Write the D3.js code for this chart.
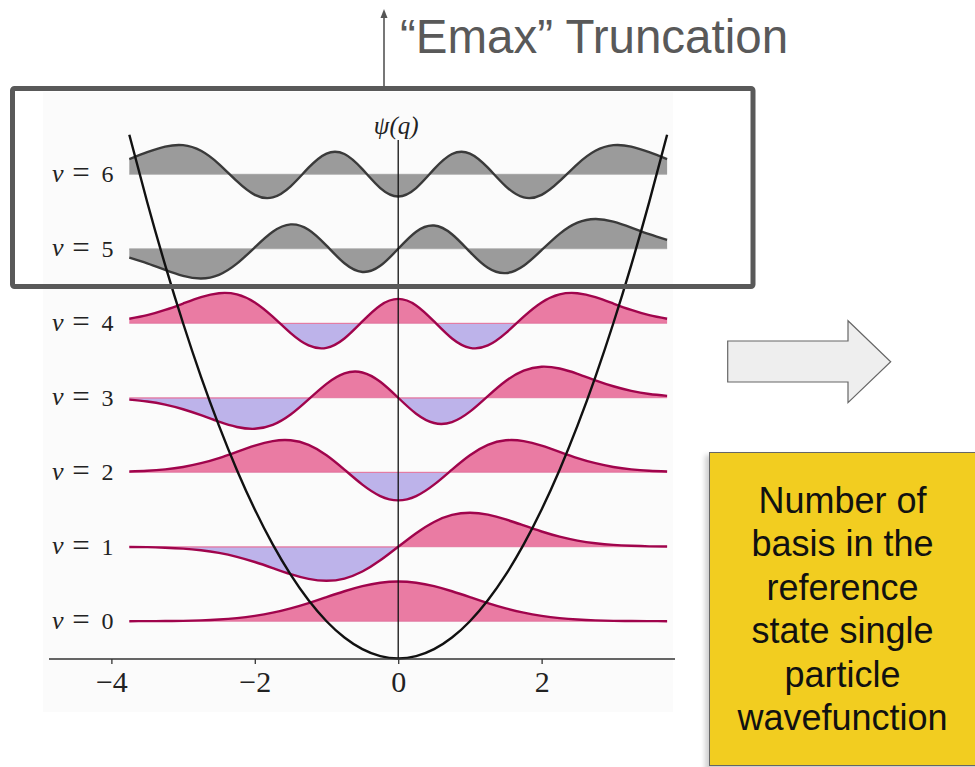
<!DOCTYPE html>
<html><head><meta charset="utf-8">
<script src="https://cdn.jsdelivr.net/npm/d3@7"></script>
<style>html,body{margin:0;padding:0;background:#fff;overflow:hidden}</style>
</head><body>
<svg id="c" width="975" height="767"></svg>
<script>
// ---- data ----
const qGrid = [-3.75,-3.5,-3.25,-3,-2.75,-2.5,-2.25,-2,-1.75,-1.5,-1.25,-1,-0.75,-0.5,-0.25,0,0.25,0.5,0.75,1,1.25,1.5,1.75,2,2.25,2.5,2.75,3,3.25,3.5,3.75];
const levels = [0,1,2,3,4,5,6];
const psi0 = [0.001,0.002,0.004,0.008,0.017,0.033,0.060,0.102,0.162,0.244,0.344,0.456,0.567,0.663,0.728,0.751,0.728,0.663,0.567,0.456,0.344,0.244,0.162,0.102,0.060,0.033,0.017,0.008,0.004,0.002,0.001];
const psi1 = [-0.004,-0.008,-0.018,-0.035,-0.067,-0.117,-0.190,-0.288,-0.402,-0.517,-0.608,-0.644,-0.601,-0.469,-0.257,0,0.257,0.469,0.601,0.644,0.608,0.517,0.402,0.288,0.190,0.117,0.067,0.035,0.018,0.008,0.004];
const psi2 = [0.013,0.027,0.054,0.100,0.171,0.268,0.386,0.503,0.589,0.604,0.517,0.322,0.050,-0.234,-0.450,-0.531,-0.450,-0.234,0.050,0.322,0.517,0.604,0.589,0.503,0.386,0.268,0.171,0.100,0.054,0.027,0.013];
const psi3 = [-0.036,-0.071,-0.130,-0.217,-0.330,-0.453,-0.553,-0.587,-0.513,-0.317,-0.031,0.263,0.460,0.478,0.302,0,-0.302,-0.478,-0.460,-0.263,0.031,0.317,0.513,0.587,0.553,0.453,0.330,0.217,0.130,0.071,0.036];
const psi4 = [0.085,0.153,0.252,0.373,0.493,0.568,0.546,0.394,0.125,-0.187,-0.420,-0.465,-0.288,0.034,0.337,0.460,0.337,0.034,-0.288,-0.465,-0.420,-0.187,0.125,0.394,0.546,0.568,0.493,0.373,0.252,0.153,0.085];
const psi5 = [-0.169,-0.275,-0.401,-0.514,-0.562,-0.493,-0.282,0.026,0.321,0.460,0.360,0.059,-0.275,-0.439,-0.323,0,0.323,0.439,0.275,-0.059,-0.360,-0.460,-0.321,-0.026,0.282,0.493,0.562,0.514,0.401,0.275,0.169];
const psi6 = [0.288,0.416,0.522,0.550,0.443,0.193,-0.132,-0.390,-0.438,-0.228,0.124,0.391,0.382,0.096,-0.261,-0.420,-0.261,0.096,0.382,0.391,0.124,-0.228,-0.438,-0.390,-0.132,0.193,0.443,0.550,0.522,0.416,0.288];
const potential = [7.031,6.125,5.281,4.5,3.781,3.125,2.531,2,1.531,1.125,0.781,0.5,0.281,0.125,0.031,0,0.031,0.125,0.281,0.5,0.781,1.125,1.531,2,2.531,3.125,3.781,4.5,5.281,6.125,7.031];
const xTicks = [-4,-2,0,2];
const xTickLabels = ["\u22124","\u22122","0","2"];
const truncatedLevels = [5,6];
const axisLabel = "\u03C8(q)";
const truncationLabel = "\u201CEmax\u201D Truncation";
const boxLines = ["Number of","basis in the","reference","state single","particle","wavefunction"];

const psiByLevel = [psi0,psi1,psi2,psi3,psi4,psi5,psi6];

// ---- layout ----
const W = 975, H = 767;
const svg = d3.select("#c");
const defs = svg.append("defs");
const x = d3.scaleLinear().domain([-4.87, 3.86]).range([49, 675]);
const y = d3.scaleLinear().domain([0, 7]).range([658.5, 137]);
const amp = 0.71;

// faint plot background
svg.append("rect").attr("x",43).attr("y",92).attr("width",630).attr("height",620).attr("fill","#fbfbfb");

const gLev = svg.append("g");
levels.forEach(v => {
  const E = v + 0.5;
  const by = y(E);
  const data = psiByLevel[v];
  const gray = truncatedLevels.includes(v);
  defs.append("clipPath").attr("id","ab"+v).append("rect").attr("x",0).attr("y",0).attr("width",W).attr("height",by+0.8);
  defs.append("clipPath").attr("id","be"+v).append("rect").attr("x",0).attr("y",by).attr("width",W).attr("height",H-by);
  const area = d3.area().x((d,i)=>x(qGrid[i])).y0(by).y1(d=>y(E+amp*d)).curve(d3.curveNatural);
  const line = d3.line().x((d,i)=>x(qGrid[i])).y(d=>y(E+amp*d)).curve(d3.curveNatural);
  const posFill = gray ? "#9b9b9b" : "#ea7ba3";
  const negFill = gray ? "#9b9b9b" : "#bdb3ea";
  gLev.append("path").attr("d",area(data)).attr("fill",negFill).attr("clip-path","url(#be"+v+")");
  gLev.append("path").attr("d",area(data)).attr("fill",posFill).attr("clip-path","url(#ab"+v+")");
  gLev.append("line").attr("x1",x(qGrid[0])).attr("x2",x(qGrid[qGrid.length-1])).attr("y1",by).attr("y2",by)
    .attr("stroke",gray?"#a9a9a9":"#e06a95").attr("stroke-width",1.2).attr("opacity",0.7);
  gLev.append("path").attr("d",line(data)).attr("fill","none").attr("stroke",gray?"#3a3a3a":"#a0044c").attr("stroke-width",2.4);

  // level label
  const lg = svg.append("g").attr("fill","#222");
  lg.append("text").attr("x",52).attr("y",by+7.5).attr("font-family","Liberation Serif").attr("font-style","italic").attr("font-size",26).text("v");
  lg.append("text").attr("x",81).attr("y",by+9).attr("text-anchor","middle").attr("font-family","Liberation Serif").attr("font-size",31).text("=");
  lg.append("text").attr("x",113.5).attr("y",by+8).attr("text-anchor","end").attr("font-family","Liberation Serif").attr("font-size",24).text(String(v));
});

// potential
svg.append("path")
  .attr("d", d3.line().x((d,i)=>x(qGrid[i])).y(d=>y(d)).curve(d3.curveNatural)(potential))
  .attr("fill","none").attr("stroke","#111").attr("stroke-width",2.4);

// vertical axis line
svg.append("line").attr("x1",x(0)).attr("x2",x(0)).attr("y1",140).attr("y2",y(0)).attr("stroke","#111").attr("stroke-width",1.3);
svg.append("text").attr("x",x(0)-2).attr("y",133.5).attr("text-anchor","middle").attr("font-family","Liberation Serif").attr("font-style","italic").attr("font-size",25).attr("fill","#222").text(axisLabel);

// x axis
const xa = svg.append("g").attr("transform",`translate(0,${y(0)+0.5})`)
  .call(d3.axisBottom(x).tickValues(xTicks).tickSize(5).tickPadding(6).tickFormat((d,i)=>xTickLabels[i]));
xa.select(".domain").attr("stroke","#333").attr("stroke-width",1.6).attr("d","M49,0H675");
xa.selectAll(".tick line").attr("stroke","#333").attr("stroke-width",1.3);
xa.selectAll(".tick text").attr("font-family","Liberation Serif").attr("font-size",30).attr("fill","#222").attr("dy","0.72em");

// truncation box
svg.append("rect").attr("x",12.5).attr("y",88.5).attr("width",740.5).attr("height",198).attr("rx",2)
  .attr("fill","none").attr("stroke","#595959").attr("stroke-width",5);
// up arrow
svg.append("line").attr("x1",384).attr("x2",384).attr("y1",86).attr("y2",16).attr("stroke","#555").attr("stroke-width",1.6);
svg.append("path").attr("d","M384,9 L380.5,18 L387.5,18 Z").attr("fill","#555");
svg.append("text").attr("x",400).attr("y",53).attr("font-family","Liberation Sans").attr("font-size",47.5).attr("fill","#595959").text(truncationLabel);

// right arrow
svg.append("path").attr("d","M727.7,341 L848,341 L848,320.7 L890.7,361.7 L848,402.7 L848,382 L727.7,382 Z")
  .attr("fill","#eeeeee").attr("stroke","#666").attr("stroke-width",1.2);

// yellow box
const f = defs.append("filter").attr("id","sh").attr("x","-10%").attr("y","-10%").attr("width","130%").attr("height","130%");
f.append("feGaussianBlur").attr("stdDeviation",2.5);
svg.append("rect").attr("x",705).attr("y",455).attr("width",290).attr("height",320).attr("fill","#000").attr("opacity",0.18).attr("filter","url(#sh)");
svg.append("rect").attr("x",709.5).attr("y",452.5).attr("width",280).attr("height",313).attr("fill","#f2cd20").attr("stroke","#666").attr("stroke-width",1);
const bt = svg.append("g");
boxLines.forEach((s,i)=>{
  bt.append("text").attr("x",842.5).attr("y",513+i*43.4).attr("text-anchor","middle")
    .attr("font-family","Liberation Sans").attr("font-size",36).attr("fill","#111").text(s);
});
</script>
</body></html>
